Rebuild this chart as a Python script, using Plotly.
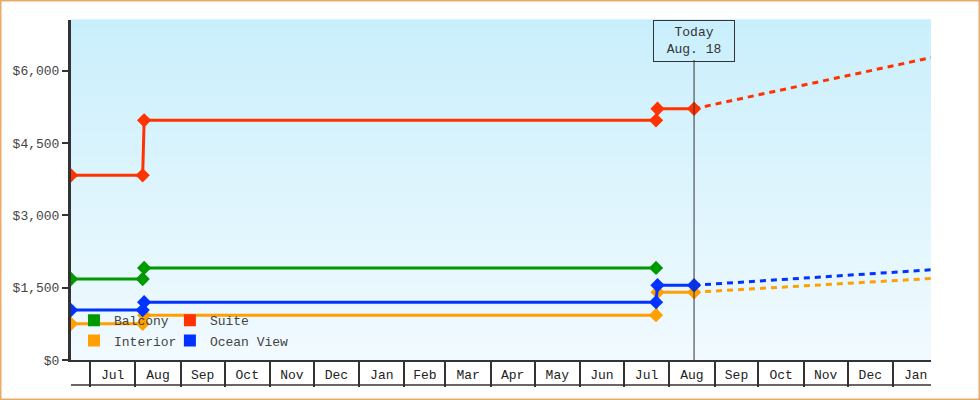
import plotly.graph_objects as go

# cabin price history (step points) and forecast
names = ["Balcony", "Suite", "Interior", "Ocean View"]
colors = ["#009900", "#ff3300", "#ffa000", "#0033ff"]

hist_dates = {
    "Balcony": ["2018-06-18", "2018-08-06", "2018-08-07", "2019-07-23"],
    "Suite": ["2018-06-18", "2018-08-06", "2018-08-07", "2019-07-23", "2019-07-24", "2019-08-18"],
    "Interior": ["2018-06-18", "2018-08-06", "2018-08-07", "2019-07-23", "2019-07-24", "2019-08-18"],
    "Ocean View": ["2018-06-18", "2018-08-06", "2018-08-07", "2019-07-23", "2019-07-24", "2019-08-18"],
}
hist_prices = {
    "Balcony": [1680, 1680, 1910, 1910],
    "Suite": [3830, 3830, 4970, 4970, 5210, 5210],
    "Interior": [750, 750, 930, 930, 1405, 1405],
    "Ocean View": [1035, 1035, 1200, 1200, 1550, 1550],
}

fc_dates = ["2019-08-18", "2019-11-08", "2020-01-27"]
fc_prices = {
    "Suite": [5210, 5750, 6270],
    "Interior": [1405, 1550, 1690],
    "Ocean View": [1550, 1715, 1870],
}

today = "2019-08-18"
today_label = "Today<br>Aug. 18"
y_ticks = [0, 1500, 3000, 4500, 6000]
y_labels = ["$0", "$1,500", "$3,000", "$4,500", "$6,000"]

FONT = "Liberation Mono"

fig = go.Figure()

for name, col in zip(names, colors):
    fig.add_trace(go.Scatter(
        x=hist_dates[name], y=hist_prices[name], mode="lines+markers",
        line=dict(color=col, width=3), marker=dict(symbol="diamond", size=11, color=col),
        showlegend=False, hoverinfo="skip"))
    if name in fc_prices:
        fig.add_trace(go.Scatter(
            x=fc_dates, y=fc_prices[name], mode="lines",
            line=dict(color=col, width=3, dash="6px,5px"),
            showlegend=False, hoverinfo="skip"))

# legend: one small legend per entry, laid out 2 x 2
leg_names = ["legend", "legend2", "legend3", "legend4"]
leg_pos = [(0.0035, 0.117), (0.115, 0.117), (0.0035, 0.057), (0.115, 0.057)]
for name, col, ln in zip(names, colors, leg_names):
    fig.add_trace(go.Scatter(
        x=[None], y=[None], mode="markers", name=name,
        marker=dict(symbol="square", size=12, color=col), legend=ln))

# gradient background
n = 40
top = (202, 239, 252)
bot = (241, 250, 255)
for i in range(n):
    t = i / (n - 1)
    c = tuple(round(bot[k] + (top[k] - bot[k]) * t) for k in range(3))
    fig.add_shape(type="rect", xref="x domain", yref="y domain",
                  x0=0, x1=1, y0=i / n, y1=(i + 1) / n + 0.002,
                  fillcolor="rgb(%d,%d,%d)" % c, line_width=0, layer="below")

# today marker
fig.add_shape(type="line", xref="x", yref="y domain", x0=today, x1=today,
              y0=0, y1=(360 - 60) / 340, line=dict(color="#333", width=1))
fig.add_annotation(x=today, xref="x", y=1, yref="y domain", yanchor="top",
                   text=today_label, showarrow=False, width=74, height=34,
                   bordercolor="#333", borderwidth=1, borderpad=3,
                   font=dict(family=FONT, size=13, color="#333"))

# bottom line of month cells
fig.add_shape(type="line", xref="x domain", yref="y domain", x0=0, x1=1,
              y0=-25 / 340, y1=-25 / 340, line=dict(color="#333", width=1.5))

# outer border
fig.add_shape(type="rect", xref="paper", yref="paper",
              x0=(0.75 - 71) / 860, x1=(979.25 - 71) / 860,
              y0=-(399.25 - 360) / 340, y1=1 + (20 - 0.75) / 340,
              line=dict(color="#e9a96a", width=1.5))

layout_legs = {}
for ln, (lx, ly) in zip(leg_names, leg_pos):
    layout_legs[ln] = dict(x=lx, y=ly, xanchor="left", yanchor="middle",
                           bgcolor="rgba(0,0,0,0)", itemwidth=30,
                           font=dict(family=FONT, size=13, color="#444"))

fig.update_layout(
    width=980, height=400,
    margin=dict(l=71, r=49, t=20, b=40),
    paper_bgcolor="white", plot_bgcolor="white",
    font=dict(family=FONT, size=13, color="#333"),
    **layout_legs,
)

fig.update_xaxes(
    type="date", range=["2018-06-18", "2020-01-27"],
    showgrid=False, zeroline=False,
    showline=True, linecolor="#333", linewidth=1.5,
    ticks="outside", ticklen=25, tickwidth=1.5, tickcolor="#333",
    dtick="M1", tick0="2018-07-01", tickformat="%b", ticklabelmode="period",
    ticklabelstandoff=-23,
    tickfont=dict(family=FONT, size=13, color="#222"),
)
fig.update_yaxes(
    range=[0, 7050], showgrid=False, zeroline=False,
    showline=True, linecolor="#333", linewidth=3,
    ticks="outside", ticklen=6, tickwidth=2, tickcolor="#333",
    tickvals=y_ticks, ticktext=y_labels,
    tickfont=dict(family=FONT, size=13, color="#444"),
)

fig.write_html("out.html", config={"displayModeBar": False},
               post_script="document.body.style.margin='0';")
